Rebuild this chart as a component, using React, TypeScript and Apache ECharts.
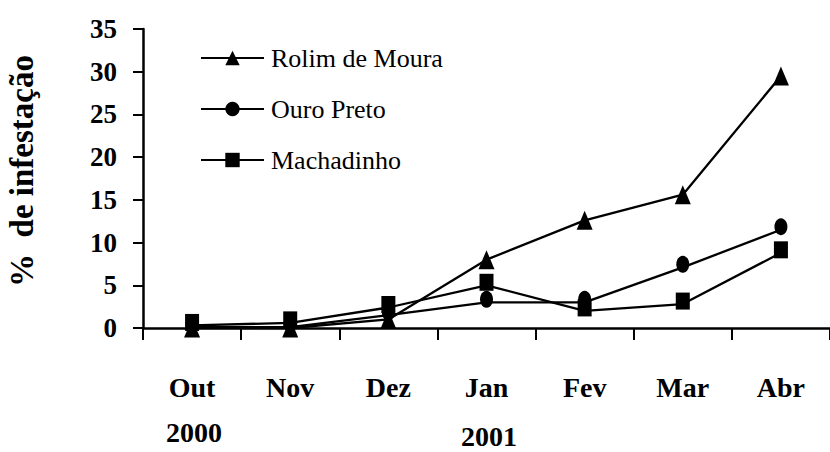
import React, { useEffect, useRef } from "react";
import * as echarts from "echarts";

const months = ["Out", "Nov", "Dez", "Jan", "Fev", "Mar", "Abr"];
const yearLabels = ["2000", "2001"];
const rolimDeMoura = [0, 0, 1.0, 8.0, 12.6, 15.6, 29.5];
const ouroPreto = [0.1, 0.1, 1.5, 3.0, 3.0, 7.1, 11.5];
const machadinho = [0.3, 0.6, 2.4, 5.0, 2.0, 2.8, 8.8];
const yTicks = { min: 0, max: 35, interval: 5 };
const yTitle = "%  de infestação";

const FONT = "Liberation Serif";

export default function App() {
  const ref = useRef<HTMLDivElement>(null);

  useEffect(() => {
    if (!ref.current) return;
    const chart = echarts.init(ref.current, undefined, { renderer: "svg" });
    const lineStyle = { color: "#000", width: 2.3 };
    const itemStyle = { color: "#000" };
    chart.setOption({
      animation: false,
      backgroundColor: "#fff",
      textStyle: { fontFamily: FONT, color: "#000" },
      grid: { left: 143, right: -7, top: 29, bottom: 124 },
      legend: {
        orient: "vertical",
        left: 200,
        top: 43,
        padding: 0,
        itemWidth: 63,
        itemHeight: 18,
        itemGap: 21,
        textStyle: {
          fontFamily: FONT,
          fontSize: 26,
          color: "#000",
          lineHeight: 30,
          padding: [0, 0, 0, 2],
        },
        data: ["Rolim de Moura", "Ouro Preto", "Machadinho"],
      },
      xAxis: {
        type: "category",
        data: months,
        boundaryGap: true,
        axisLine: { show: true, lineStyle: { color: "#000", width: 2.5 } },
        axisTick: { show: true, length: 12, lineStyle: { color: "#000", width: 2 } },
        axisLabel: {
          fontFamily: FONT,
          fontSize: 28,
          fontWeight: "bold",
          color: "#000",
          margin: 45,
        },
        splitLine: { show: false },
      },
      yAxis: {
        type: "value",
        min: yTicks.min,
        max: yTicks.max,
        interval: yTicks.interval,
        axisLine: { show: true, lineStyle: { color: "#000", width: 2.5 } },
        axisTick: { show: true, length: 10, lineStyle: { color: "#000", width: 2 } },
        axisLabel: {
          fontFamily: FONT,
          fontSize: 27,
          fontWeight: "bold",
          color: "#000",
          margin: 26,
        },
        splitLine: { show: false },
      },
      graphic: [
        {
          type: "text",
          x: 22,
          y: 171,
          rotation: Math.PI / 2,
          style: {
            text: yTitle,
            fontFamily: FONT,
            fontSize: 33,
            fontWeight: "bold",
            fill: "#000",
            align: "center",
            verticalAlign: "middle",
          },
        },
        {
          type: "text",
          x: 194,
          y: 432,
          style: {
            text: yearLabels[0],
            fontFamily: FONT,
            fontSize: 28,
            fontWeight: "bold",
            fill: "#000",
            align: "center",
            verticalAlign: "middle",
          },
        },
        {
          type: "text",
          x: 489,
          y: 436,
          style: {
            text: yearLabels[1],
            fontFamily: FONT,
            fontSize: 28,
            fontWeight: "bold",
            fill: "#000",
            align: "center",
            verticalAlign: "middle",
          },
        },
      ],
      series: [
        {
          name: "Rolim de Moura",
          type: "line",
          data: rolimDeMoura,
          symbol: "triangle",
          symbolSize: [16, 19],
          lineStyle,
          itemStyle,
        },
        {
          name: "Ouro Preto",
          type: "line",
          data: ouroPreto,
          symbol: "circle",
          symbolSize: [13, 17],
          symbolOffset: [0, -3],
          lineStyle,
          itemStyle,
        },
        {
          name: "Machadinho",
          type: "line",
          data: machadinho,
          symbol: "rect",
          symbolSize: [14, 17],
          symbolOffset: [0, -3],
          lineStyle,
          itemStyle,
        },
      ],
    });
    return () => chart.dispose();
  }, []);

  return (
    <div
      ref={ref}
      style={{ position: "absolute", left: 0, top: 0, width: 830, height: 452, background: "#fff" }}
    />
  );
}
